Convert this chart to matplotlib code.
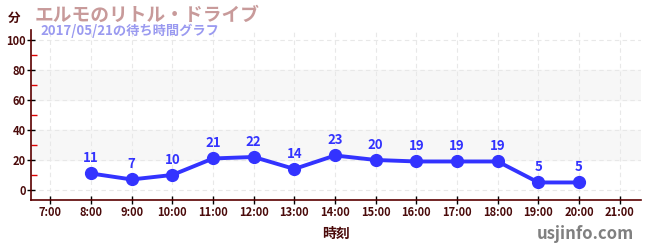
import matplotlib.pyplot as plt
from matplotlib.ticker import MultipleLocator

plt.rcParams['font.family'] = ['Noto Sans CJK JP', 'DejaVu Sans']

# data
hours = [8, 9, 10, 11, 12, 13, 14, 15, 16, 17, 18, 19, 20]
waits = [11, 7, 10, 21, 22, 14, 23, 20, 19, 19, 19, 5, 5]
tick_hours = list(range(7, 22))
tick_labels = [f'{h}:00' for h in tick_hours]

title = 'エルモのリトル・ドライブ'
subtitle = '2017/05/21の待ち時間グラフ'

maroon = '#4a0a0a'
blue = '#3333ff'

fig = plt.figure(figsize=(6.5, 2.5), dpi=100)
ax = fig.add_axes([0.048, 0.2, 0.938, 0.68])

# shaded bands
for lo, hi in [(20, 40), (60, 80)]:
    ax.axhspan(lo, hi, color='#f7f7f7', zorder=0)

ax.plot(hours, waits, color=blue, lw=2.8, marker='o', ms=8.5, zorder=3)
for h, w in zip(hours, waits):
    ax.annotate(str(w), (h, w), xytext=(0, 6), textcoords='offset points',
                ha='center', va='bottom', color=blue, fontsize=9.5,
                fontweight='bold', zorder=4)

ax.set_xlim(6.53, 21.52)
ax.set_ylim(-6.7, 106.7)
ax.set_xticks(tick_hours)
ax.set_xticklabels(tick_labels)
ax.set_yticks(range(0, 101, 20))
ax.yaxis.set_minor_locator(MultipleLocator(10))

ax.grid(True, which='major', color='#e8e8e8', ls=(0, (4, 3)), lw=0.8)
ax.set_axisbelow(True)

for s in ['top', 'right']:
    ax.spines[s].set_visible(False)
for s in ['left', 'bottom']:
    ax.spines[s].set_color('#5a0000')
    ax.spines[s].set_linewidth(1.2)

ax.tick_params(axis='both', which='major', direction='inout', length=6,
               color='black', labelcolor=maroon, labelsize=8, width=1)
ax.tick_params(axis='y', which='minor', direction='in', length=4,
               color='#dd0000', width=1)
for lbl in ax.get_xticklabels() + ax.get_yticklabels():
    lbl.set_fontweight('bold')
ax.tick_params(axis='x', pad=1)
ax.tick_params(axis='y', pad=1)

ax.set_xlabel('時刻', color=maroon, fontsize=10, fontweight='bold', labelpad=6)

fig.text(0.012, 0.925, '分', color=maroon, fontsize=9, fontweight='bold',
         ha='left', va='center')
fig.text(0.053, 0.94, title, color='#c89a9a', fontsize=13.5,
         fontweight='bold', ha='left', va='center')
fig.text(0.062, 0.875, subtitle, color='#9a9af0', fontsize=9.5,
         fontweight='bold', ha='left', va='center')
fig.text(0.975, 0.065, 'usjinfo.com', color='#808080', fontsize=12,
         fontweight='bold', ha='right', va='center')

fig.savefig('out.png', dpi=100)
